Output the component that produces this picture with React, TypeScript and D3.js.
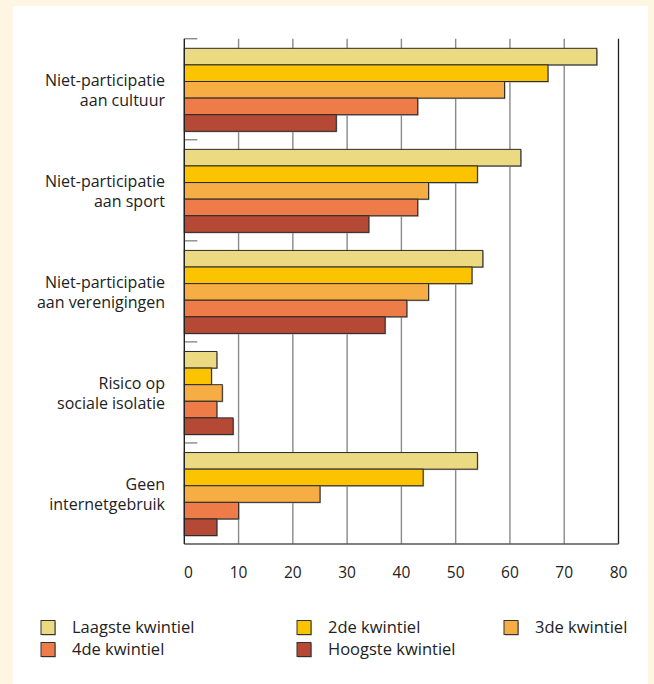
import React from "react";
import * as d3 from "d3";

const categories = [
  ["Niet-participatie", "aan cultuur"],
  ["Niet-participatie", "aan sport"],
  ["Niet-participatie", "aan verenigingen"],
  ["Risico op", "sociale isolatie"],
  ["Geen", "internetgebruik"],
];
const seriesNames = [
  "Laagste kwintiel",
  "2de kwintiel",
  "3de kwintiel",
  "4de kwintiel",
  "Hoogste kwintiel",
];
const laagste = [76, 62, 55, 6, 54];
const tweede = [67, 54, 53, 5, 44];
const derde = [59, 45, 45, 7, 25];
const vierde = [43, 43, 41, 6, 10];
const hoogste = [28, 34, 37, 9, 6];
const seriesValues = [laagste, tweede, derde, vierde, hoogste];
const colors = ["#ECDA82", "#FCC400", "#F6AE44", "#ED7C48", "#B64935"];
const xTicks = [0, 10, 20, 30, 40, 50, 60, 70, 80];

const W = 654;
const H = 684;
const FONT = "'Open Sans', sans-serif";

export default function App() {
  const x = d3.scaleLinear().domain([0, 80]).range([184.3, 618.5]);
  const catIdx = categories.map((_, i) => i);
  const y = d3.scaleBand<number>().domain(catIdx).range([38.7, 544]).paddingInner(0).paddingOuter(0);
  const inner = d3
    .scaleBand<number>()
    .domain(seriesNames.map((_, i) => i))
    .range([9.6, 9.6 + 83]);

  const legendPos = [
    { x: 41, y: 627.5 },
    { x: 297, y: 627.5 },
    { x: 504, y: 627.5 },
    { x: 41, y: 649.5 },
    { x: 297, y: 649.5 },
  ];
  const legendOrder = [0, 1, 2, 3, 4];

  return (
    <svg
      width={W}
      height={H}
      style={{ position: "absolute", left: 0, top: 0, fontFamily: FONT }}
    >
      <rect x={0} y={0} width={W} height={H} fill="#FEF5E3" />
      <rect x={13} y={6} width={635} height={H} fill="#FFFFFF" />

      {/* gridlines */}
      {xTicks.slice(1).map((t) => (
        <line
          key={"g" + t}
          x1={x(t)}
          x2={x(t)}
          y1={38.7}
          y2={544}
          stroke={t === 80 ? "#222" : "#8a8a8a"}
          strokeWidth={t === 80 ? 1.3 : 1.4}
        />
      ))}

      {/* separator ticks */}
      {catIdx.map((i) => (
        <line
          key={"s" + i}
          x1={x(0)}
          x2={x(0) + 13}
          y1={y(i)!}
          y2={y(i)!}
          stroke="#8a8a8a"
          strokeWidth={1.4}
        />
      ))}

      {/* bars */}
      {catIdx.map((ci) =>
        seriesValues.map((vals, si) => {
          const by = y(ci)! + inner(si)!;
          const bh = inner.bandwidth();
          const bw = x(vals[ci]) - x(0);
          return (
            <g key={`b${ci}-${si}`}>
              <rect x={x(0) + 1} y={by + 1} width={bw} height={bh} fill="#a8a8a8" />
              <rect
                x={x(0)}
                y={by}
                width={bw}
                height={bh}
                fill={colors[si]}
                stroke="#2a2a2a"
                strokeWidth={1}
              />
            </g>
          );
        })
      )}

      {/* axes */}
      <line x1={x(0)} x2={x(80)} y1={544} y2={544} stroke="#555" strokeWidth={1.4} />
      <line x1={x(0)} x2={x(0)} y1={38.7} y2={544} stroke="#222" strokeWidth={1.4} />

      {/* x tick labels */}
      {xTicks.map((t) => (
        <text
          key={"t" + t}
          x={x(t) + (t === 0 ? 4.2 : 0)}
          y={573}
          dy="0.35em"
          textAnchor="middle"
          fontSize={15.5}
          fill="#222"
        >
          {t}
        </text>
      ))}

      {/* category labels */}
      {categories.map((lines, i) => {
        const cy = y(i)! + y.bandwidth() / 2 + 1;
        return (
          <text key={"c" + i} x={165} textAnchor="end" fontSize={16} fill="#222">
            {lines.map((l, j) => (
              <tspan key={j} x={165} y={cy + (j - 0.5) * 20.5} dy="0.35em">
                {l}
              </tspan>
            ))}
          </text>
        );
      })}

      {/* legend */}
      {legendOrder.map((si) => {
        const p = legendPos[si];
        return (
          <g key={"l" + si}>
            <rect x={p.x + 1} y={p.y - 6} width={14} height={14} fill="#aaa" />
            <rect
              x={p.x}
              y={p.y - 7}
              width={14}
              height={14}
              fill={colors[si]}
              stroke="#333"
              strokeWidth={1}
            />
            <text x={p.x + 31} y={p.y} dy="0.35em" fontSize={16.5} fill="#222">
              {seriesNames[si]}
            </text>
          </g>
        );
      })}
    </svg>
  );
}
